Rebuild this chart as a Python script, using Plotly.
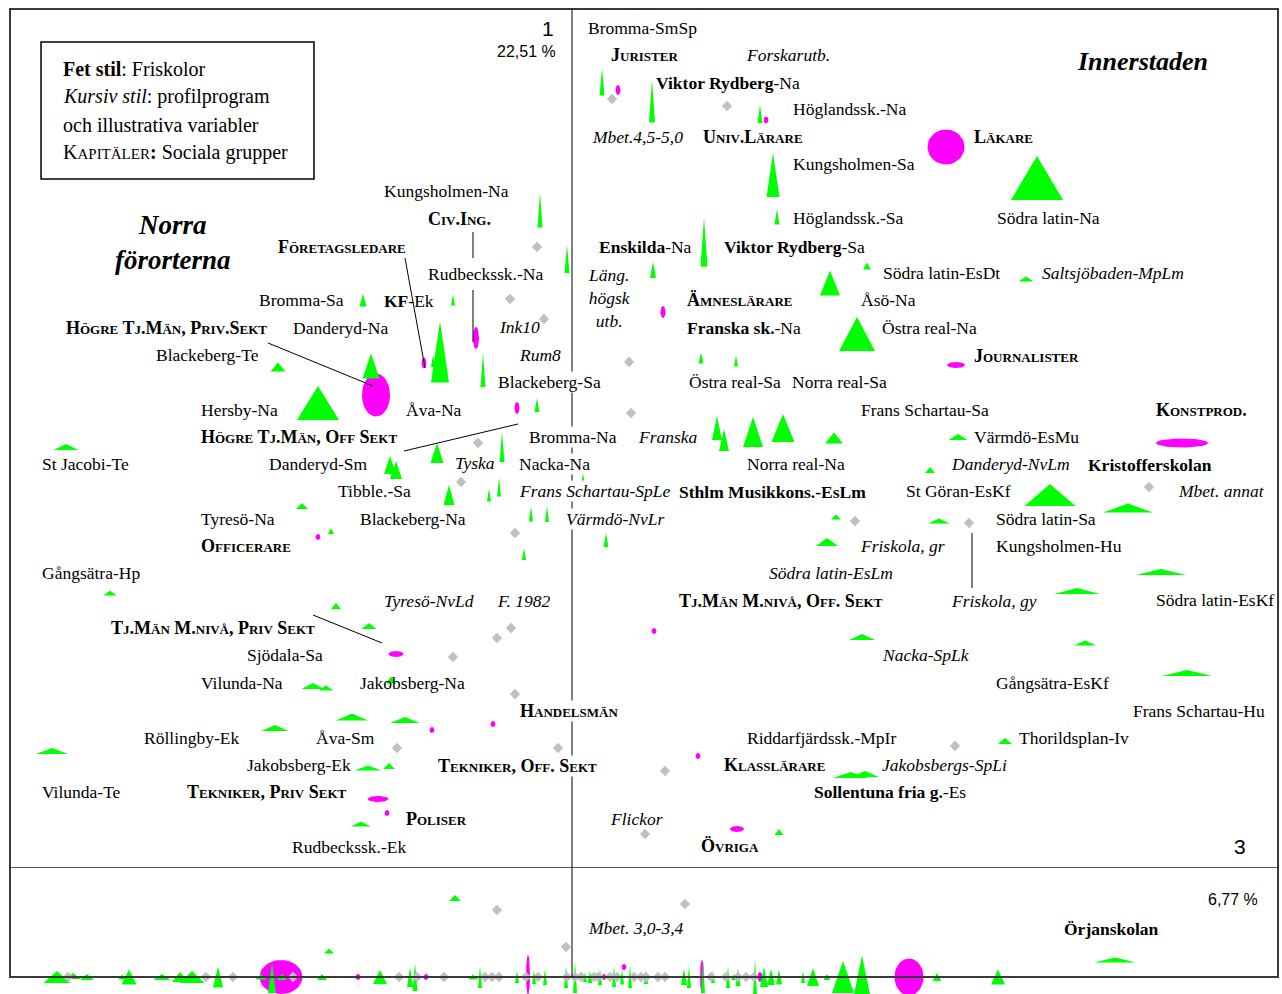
import numpy as np
import plotly.graph_objects as go

SERIF = "Liberation Serif, Times New Roman, serif"
SANS = "Liberation Sans, Arial, sans-serif"
GREEN = "#00ff00"
MAGENTA = "#ff00ff"
GREY = "#c0c0c0"

# ---------------- main plane (axis 3 horizontal, axis 1 vertical) ----------------
# schools (green triangles): centre x, centre y, width (axis 3 contrib.), height (axis 1 contrib.)
tri_x = [0.30, 0.80, 1.88, 2.01, 2.05, 4.65, -0.32, -0.05, 1.32, 0.81,
         2.95, 4.54, 2.58, 2.85, -2.09, -1.19, -1.32, -1.39, -0.89, -2.94,
         -2.01, -2.54, -0.35, 1.29, 1.64, 1.45, 1.52, 1.81, 2.11, 2.62,
         3.86, -5.06, -1.82, -1.76, -1.35, -0.70, -1.23, -0.83, -0.73, 0.11,
         3.58, 4.78, 5.56, -0.41, -0.25, 0.34, -0.48, -2.70, -2.41, 2.64,
         3.67, 2.55, 5.89, 5.05, -4.62, -2.36, -2.03, 2.90, 5.13, -2.59,
         -2.46, -1.81, 6.15, -2.20, -1.67, -2.97, -5.20, 4.33, -2.04, -1.83,
         2.79, 2.93, -2.11, 2.07]
tri_y = [7.86, 7.67, 7.54, 6.93, 6.51, 6.90, 6.58, 6.09, 6.26, 5.98,
         6.02, 5.89, 5.85, 5.34, 5.68, 5.68, 5.16, 5.07, 4.98, 5.01,
         5.02, 4.65, 4.63, 5.10, 5.07, 4.40, 4.28, 4.36, 4.40, 4.30,
         4.31, 4.21, 4.03, 3.98, 4.15, 4.21, 3.73, 3.73, 3.81, 3.89,
         3.98, 3.73, 3.60, 3.54, 3.54, 3.28, 3.14, 3.62, 3.37, 3.51,
         3.47, 3.26, 2.96, 2.77, 2.75, 2.62, 2.42, 2.31, 2.25, 1.82,
         1.80, 1.88, 1.95, 1.51, 1.48, 1.40, 1.17, 1.27, 1.00, 1.02,
         0.93, 0.94, 0.44, 0.36]
tri_w = [0.05, 0.06, 0.05, 0.13, 0.05, 0.52, 0.05, 0.05, 0.07, 0.06,
         0.08, 0.15, 0.20, 0.36, 0.07, 0.04, 0.18, 0.04, 0.05, 0.15,
         0.17, 0.42, 0.05, 0.05, 0.04, 0.10, 0.10, 0.20, 0.23, 0.18,
         0.19, 0.25, 0.12, 0.12, 0.13, 0.05, 0.11, 0.04, 0.04, 0.04,
         0.10, 0.51, 0.50, 0.04, 0.04, 0.05, 0.04, 0.12, 0.06, 0.10,
         0.22, 0.22, 0.50, 0.46, 0.13, 0.10, 0.15, 0.26, 0.22, 0.23,
         0.15, 0.10, 0.50, 0.32, 0.30, 0.27, 0.32, 0.14, 0.27, 0.12,
         0.36, 0.28, 0.20, 0.09]
tri_h = [0.27, 0.43, 0.18, 0.44, 0.15, 0.44, 0.35, 0.28, 0.49, 0.16,
         0.07, 0.05, 0.25, 0.34, 0.13, 0.11, 0.61, 0.12, 0.34, 0.09,
         0.25, 0.34, 0.14, 0.11, 0.11, 0.24, 0.22, 0.30, 0.28, 0.11,
         0.06, 0.06, 0.18, 0.18, 0.20, 0.30, 0.20, 0.13, 0.19, 0.11,
         0.06, 0.22, 0.09, 0.15, 0.16, 0.14, 0.12, 0.06, 0.06, 0.05,
         0.05, 0.08, 0.06, 0.06, 0.05, 0.06, 0.06, 0.06, 0.05, 0.06,
         0.05, 0.07, 0.06, 0.07, 0.06, 0.06, 0.06, 0.06, 0.05, 0.06,
         0.06, 0.06, 0.05, 0.06]

# social groups (magenta ellipses)
ell_x = [0.46, 1.94, 3.74, -0.96, -1.48, -1.96, 0.91, -0.55, 3.84, 6.10,
         -2.54, 0.82, -1.76, -1.40, -0.79, 1.26, -1.94, -1.85, 1.65]
ell_y = [7.78, 7.48, 7.21, 5.30, 5.05, 4.73, 5.56, 4.60, 5.03, 4.25,
         3.31, 2.37, 2.14, 1.38, 1.44, 1.12, 0.69, 0.55, 0.39]
ell_w = [0.05, 0.05, 0.37, 0.06, 0.05, 0.28, 0.05, 0.05, 0.18, 0.52,
         0.05, 0.05, 0.15, 0.05, 0.05, 0.05, 0.21, 0.05, 0.14]
ell_h = [0.10, 0.07, 0.35, 0.22, 0.11, 0.43, 0.12, 0.12, 0.06, 0.09,
         0.06, 0.06, 0.06, 0.06, 0.06, 0.06, 0.06, 0.06, 0.06]

# illustrative variables (grey diamonds)
dia_x = [0.40, 1.55, -0.35, -0.62, -0.28, 0.57, 0.59, -0.94, -1.11, -0.57,
         2.83, 3.97, 5.77, -0.61, -0.75, -1.19, -0.57, -1.75, -0.14, 0.93,
         3.83, 0.73]
dia_y = [7.69, 7.62, 6.21, 5.69, 5.49, 5.06, 4.55, 4.25, 3.86, 3.35,
         3.47, 3.45, 3.81, 2.40, 2.30, 2.11, 1.74, 1.20, 1.20, 0.97,
         1.22, 0.34]

# ---------------- lower strip ----------------
s_tri_x = [-5.15, -4.99, -4.85, -4.50, -4.43, -4.10, -3.92, -3.80, -3.54, -3.11,
           -3.00, -2.90, -2.50, -2.43, -1.92, -1.62, -1.57, -1.17, -0.99, -0.92,
           -0.55, -0.38, -0.27, -0.06, 0.03, 0.13, 0.18, 0.28, 0.42, 0.50,
           0.58, 0.74, 1.12, 1.17, 1.31, 1.41, 1.56, 1.62, 1.66, 1.83,
           1.92, 1.99, 2.07, 2.31, 2.41, 2.55, 2.71, 2.90, 3.65, 4.26, 5.43]
s_tri_y = [0.00, 0.01, 0.00, 0.00, 0.00, 0.00, 0.00, 0.00, 0.00, 0.00,
           -0.01, 0.00, 0.00, 0.26, 0.00, 0.00, 0.00, 0.79, 0.00, 0.00,
           0.00, 0.00, 0.00, 0.00, 0.00, 0.00, 0.00, 0.00, 0.00, 0.00,
           0.00, 0.00, 0.00, 0.00, 0.00, 0.00, 0.00, 0.00, 0.00, 0.00,
           0.00, 0.00, 0.00, 0.00, 0.00, 0.00, 0.00, 0.02, 0.00, 0.00, 0.17]
s_tri_w = [0.27, 0.15, 0.14, 0.07, 0.15, 0.17, 0.16, 0.25, 0.10, 0.12,
           0.08, 0.10, 0.10, 0.10, 0.14, 0.06, 0.05, 0.12, 0.10, 0.04,
           0.04, 0.04, 0.04, 0.04, 0.04, 0.04, 0.05, 0.04, 0.04, 0.04,
           0.04, 0.04, 0.06, 0.04, 0.04, 0.04, 0.04, 0.06, 0.05, 0.04,
           0.08, 0.08, 0.06, 0.04, 0.12, 0.07, 0.22, 0.16, 0.09, 0.14, 0.42]
s_tri_h = [0.12, 0.06, 0.06, 0.05, 0.15, 0.06, 0.10, 0.12, 0.21, 0.05,
           0.30, 0.06, 0.06, 0.05, 0.14, 0.20, 0.28, 0.06, 0.05, 0.22,
           0.12, 0.14, 0.16, 0.22, 0.32, 0.10, 0.12, 0.16, 0.20, 0.15,
           0.22, 0.14, 0.16, 0.22, 0.32, 0.12, 0.22, 0.06, 0.18, 0.36,
           0.20, 0.16, 0.15, 0.12, 0.18, 0.06, 0.32, 0.39, 0.08, 0.15, 0.05]

s_ell_x = [-2.91, -2.14, -1.46, -0.44, 0.32, 0.52, 1.30, 1.88, 3.37]
s_ell_y = [0.00, 0.00, 0.00, 0.02, 0.00, 0.10, 0.00, 0.00, 0.00]
s_ell_w = [0.43, 0.05, 0.05, 0.04, 0.04, 0.05, 0.04, 0.05, 0.29]
s_ell_h = [0.34, 0.06, 0.06, 0.40, 0.06, 0.06, 0.34, 0.10, 0.37]

s_dia_x = [-5.04, -3.66, -3.39, -2.79, -1.73, -1.55, -1.28, -0.87, -0.80, -0.73,
           -0.46, -0.34, -0.05, 0.03, 0.09, 0.22, 0.26, 0.38, 0.45, 0.62,
           0.69, 0.74, 0.86, 0.93, 1.39, 1.54, 1.66, 1.74, 1.82,
           -0.75, 1.13, -0.06]
s_dia_y = [0.00, 0.00, 0.00, 0.00, 0.00, 0.00, 0.00, 0.00, 0.00, 0.00,
           0.00, 0.00, 0.00, 0.00, 0.00, 0.00, 0.00, 0.00, 0.00, 0.00,
           0.00, 0.00, 0.00, 0.00, 0.00, 0.00, 0.00, 0.00, 0.00,
           0.67, 0.73, 0.30]

# ---------------- labels ----------------
school_labels = [
    ("Bromma-SmSp", 0.15, 8.40), ("Höglandssk.-Na", 2.20, 7.59),
    ("Kungsholmen-Sa", 2.20, 7.04), ("Höglandssk.-Sa", 2.20, 6.50),
    ("Södra latin-Na", 4.24, 6.50), ("Kungsholmen-Na", -1.89, 6.77),
    ("Rudbeckssk.-Na", -1.45, 5.94), ("Södra latin-EsDt", 3.10, 5.95),
    ("Bromma-Sa", -3.14, 5.68), ("Åsö-Na", 2.88, 5.68),
    ("Danderyd-Na", -2.80, 5.40), ("Östra real-Na", 3.09, 5.40),
    ("Blackeberg-Te", -4.17, 5.13), ("Blackeberg-Sa", -0.75, 4.86),
    ("Östra real-Sa", 1.16, 4.86), ("Norra real-Sa", 2.19, 4.86),
    ("Hersby-Na", -3.72, 4.58), ("Åva-Na", -1.67, 4.58),
    ("Frans Schartau-Sa", 2.88, 4.58), ("Bromma-Na", -0.44, 4.31),
    ("Värmdö-EsMu", 4.01, 4.31), ("St Jacobi-Te", -5.31, 4.04),
    ("Danderyd-Sm", -3.04, 4.04), ("Nacka-Na", -0.54, 4.04),
    ("Norra real-Na", 1.74, 4.04), ("Tibble.-Sa", -2.35, 3.77),
    ("St Göran-EsKf", 3.33, 3.77), ("Tyresö-Na", -3.72, 3.49),
    ("Blackeberg-Na", -2.13, 3.49), ("Södra latin-Sa", 4.23, 3.49),
    ("Kungsholmen-Hu", 4.23, 3.22), ("Gångsätra-Hp", -5.31, 2.95),
    ("Södra latin-EsKf", 5.83, 2.68), ("Sjödala-Sa", -3.26, 2.13),
    ("Vilunda-Na", -3.72, 1.85), ("Jakobsberg-Na", -2.13, 1.85),
    ("Gångsätra-EsKf", 4.23, 1.85), ("Frans Schartau-Hu", 5.60, 1.57),
    ("Röllingby-Ek", -4.29, 1.30), ("Åva-Sm", -2.57, 1.30),
    ("Riddarfjärdssk.-MpIr", 1.74, 1.30), ("Thorildsplan-Iv", 4.46, 1.30),
    ("Jakobsberg-Ek", -3.26, 1.03), ("Vilunda-Te", -5.31, 0.76),
    ("Rudbeckssk.-Ek", -2.81, 0.21),
]
free_school_labels = [
    ("<b>Viktor Rydberg</b>-Na", 0.83, 7.85), ("<b>Enskilda</b>-Na", 0.26, 6.21),
    ("<b>Viktor Rydberg</b>-Sa", 1.51, 6.21), ("<b>KF</b>-Ek", -1.89, 5.67),
    ("<b>Franska sk.</b>-Na", 1.14, 5.40), ("<b>Kristofferskolan</b>", 5.15, 4.03),
    ("<b>Sthlm Musikkons.-EsLm</b>", 1.06, 3.76),
    ("<b>Sollentuna fria g.</b>-Es", 2.41, 0.76),
]
profile_labels = [
    ("Forskarutb.", 1.73, 8.13), ("Mbet.4,5-5,0", 0.19, 7.31),
    ("Saltsjöbaden-MpLm", 4.69, 5.95), ("Ink10", -0.74, 5.41),
    ("Rum8", -0.54, 5.13), ("Franska", 0.65, 4.31), ("Tyska", -1.18, 4.05),
    ("Danderyd-NvLm", 3.78, 4.04), ("Frans Schartau-SpLe", -0.54, 3.77),
    ("Mbet. annat", 6.05, 3.77), ("Värmdö-NvLr", -0.07, 3.49),
    ("Friskola, gr", 2.87, 3.22), ("Södra latin-EsLm", 1.96, 2.95),
    ("Tyresö-NvLd", -1.89, 2.67), ("F. 1982", -0.76, 2.67),
    ("Friskola, gy", 3.78, 2.67), ("Nacka-SpLk", 3.09, 2.13),
    ("Jakobsbergs-SpLi", 3.09, 1.03), ("Flickor", 0.37, 0.49),
]
profile_block = ("Läng.<br>högsk<br>utb.", 0.37, 5.70)
social_labels = [
    ("Jurister", 0.38, 8.13), ("Univ.Lärare", 1.30, 7.31), ("Läkare", 4.01, 7.31),
    ("Civ.Ing.", -1.45, 6.49), ("Företagsledare", -2.95, 6.21),
    ("Ämneslärare", 1.14, 5.68), ("Högre Tj.Män, Priv.Sekt", -5.07, 5.40),
    ("Journalister", 4.01, 5.12), ("Konstprod.", 5.83, 4.58),
    ("Högre Tj.Män, Off Sekt", -3.72, 4.31), ("Officerare", -3.72, 3.22),
    ("Tj.Män M.nivå, Off. Sekt", 1.06, 2.67), ("Tj.Män M.nivå, Priv Sekt", -4.62, 2.40),
    ("Handelsmän", -0.53, 1.57), ("Tekniker, Off. Sekt", -1.35, 1.02),
    ("Klasslärare", 1.51, 1.03), ("Tekniker, Priv Sekt", -3.86, 0.76),
    ("Poliser", -1.67, 0.49), ("Övriga", 1.28, 0.22),
]
strip_profile_labels = [("Mbet. 3,0-3,4", 0.15, 0.49)]
strip_free_labels = [("<b>Örjanskolan</b>", 4.91, 0.48)]

# leader lines (from label to point)
leaders = [((-1.67, 6.10), (-1.47, 5.00)),
           ((-0.99, 6.36), (-0.99, 6.10)),
           ((-0.99, 5.78), (-0.99, 5.26)),
           ((-3.04, 5.25), (-1.99, 4.82)),
           ((-1.68, 4.17), (-0.54, 4.44)),
           ((-2.59, 2.53), (-1.90, 2.25)),
           ((4.00, 3.35), (4.00, 2.80))]

on_axis = {"Blackeberg-Sa", "Bromma-Na", "Nacka-Na", "Frans Schartau-SpLe",
           "Värmdö-NvLr", "Handelsmän", "Tekniker, Off. Sekt"}

# ---------------- build ----------------
def tri_path(xs, ys, ws, hs):
    px, py = [], []
    for x, y, w, h in zip(xs, ys, ws, hs):
        px += [x - w / 2, x + w / 2, x, x - w / 2, None]
        py += [y - h / 2, y - h / 2, y + h / 2, y - h / 2, None]
    return px, py


def ell_path(xs, ys, ws, hs):
    t = np.linspace(0, 2 * np.pi, 41)
    px, py = [], []
    for x, y, w, h in zip(xs, ys, ws, hs):
        px += list(x + w / 2 * np.cos(t)) + [None]
        py += list(y + h / 2 * np.sin(t)) + [None]
    return px, py


fig = go.Figure()


def add_set(ex, ey, ew, eh, tx, ty, tw, th, dx, dy, yaxis):
    ax, ay = ell_path(ex, ey, ew, eh)
    fig.add_trace(go.Scatter(x=ax, y=ay, mode="lines", fill="toself", fillcolor=MAGENTA,
                             line=dict(width=0, color=MAGENTA), hoverinfo="skip", yaxis=yaxis))
    bx, by = tri_path(tx, ty, tw, th)
    fig.add_trace(go.Scatter(x=bx, y=by, mode="lines", fill="toself", fillcolor=GREEN,
                             line=dict(width=0, color=GREEN), hoverinfo="skip", yaxis=yaxis))
    fig.add_trace(go.Scatter(x=dx, y=dy, mode="markers", hoverinfo="skip", yaxis=yaxis,
                             marker=dict(symbol="diamond", size=8, color=GREY, line=dict(width=0))))


add_set(ell_x, ell_y, ell_w, ell_h, tri_x, tri_y, tri_w, tri_h, dia_x, dia_y, "y")
add_set(s_ell_x, s_ell_y, s_ell_w, s_ell_h, s_tri_x, s_tri_y, s_tri_w, s_tri_h,
        s_dia_x, s_dia_y, "y2")

LBL = 17.5


def label(text, x, y, yref="y", variant="normal", xanchor="left", align="left"):
    plain = text.replace("<b>", "").replace("</b>", "")
    fig.add_annotation(x=x, y=y, xref="x", yref=yref, text=text, showarrow=False,
                       xanchor=xanchor, yanchor="middle", align=align, borderpad=0,
                       bgcolor="white" if plain in on_axis else "rgba(0,0,0,0)",
                       font=dict(family=SERIF, size=LBL, color="black", variant=variant))


for t, x, y in school_labels:
    label(t, x, y)
for t, x, y in free_school_labels:
    label(t, x, y)
for t, x, y in profile_labels:
    fig.add_annotation(x=x, y=y, xref="x", yref="y", text="<i>" + t + "</i>", showarrow=False,
                       xanchor="left", yanchor="middle", borderpad=0,
                       bgcolor="white" if t in on_axis else "rgba(0,0,0,0)",
                       font=dict(family=SERIF, size=LBL, color="black"))
label("<i>" + profile_block[0] + "</i>", profile_block[1], profile_block[2],
      xanchor="center", align="center")
for t, x, y in social_labels:
    fig.add_annotation(x=x, y=y, xref="x", yref="y", text="<b>" + t + "</b>", showarrow=False,
                       xanchor="left", yanchor="middle", borderpad=0,
                       bgcolor="white" if t in on_axis else "rgba(0,0,0,0)",
                       font=dict(family=SERIF, size=18, color="black", variant="small-caps"))
for t, x, y in strip_profile_labels:
    label("<i>" + t + "</i>", x, y, yref="y2")
for t, x, y in strip_free_labels:
    label(t, x, y, yref="y2")

# region titles
fig.add_annotation(x=0.8385, y=0.9386, xref="paper", yref="paper", text="<b><i>Innerstaden</i></b>",
                   showarrow=False, xanchor="left", yanchor="middle",
                   font=dict(family=SERIF, size=26, color="black"))
fig.add_annotation(x=0.1350, y=0.7565, xref="paper", yref="paper",
                   text="<b><i>Norra<br>förorterna</i></b>", showarrow=False,
                   xanchor="center", yanchor="middle", align="center",
                   font=dict(family=SERIF, size=27, color="black"))

# axis labels
fig.add_annotation(x=0.4275, y=0.9718, xref="paper", yref="paper", text="1", showarrow=False,
                   xanchor="center", yanchor="middle", font=dict(family=SANS, size=21, color="black"))
fig.add_annotation(x=0.4353, y=0.9477, xref="paper", yref="paper", text="22,51 %", showarrow=False,
                   xanchor="right", yanchor="middle", font=dict(family=SANS, size=16, color="black"))
fig.add_annotation(x=0.9672, y=0.1479, xref="paper", yref="paper", text="3", showarrow=False,
                   xanchor="center", yanchor="middle", font=dict(family=SANS, size=21, color="black"))
fig.add_annotation(x=0.9828, y=0.0946, xref="paper", yref="paper", text="6,77 %", showarrow=False,
                   xanchor="right", yanchor="middle", font=dict(family=SANS, size=16, color="black"))

# key box
key_lines = ["<b>Fet stil</b>: Friskolor",
             "<i>Kursiv stil</i>: profilprogram",
             "och illustrativa variabler",
             "K<span style='font-size:15px'>APITÄLER</span><b>:</b> Sociala grupper"]
for i, t in enumerate(key_lines):
    fig.add_annotation(x=0.0476, y=0.9306 - i * 0.02817, xref="paper", yref="paper", text=t,
                       showarrow=False, xanchor="left", yanchor="middle",
                       font=dict(family=SERIF, size=20, color="black"))
fig.add_shape(type="rect", xref="paper", yref="paper", x0=0.0320, x1=0.2449, y0=0.8199, y1=0.9577,
              line=dict(color="black", width=1.5), fillcolor="rgba(0,0,0,0)", layer="above")

# frame, panel separator, axis 1 line
X0, X1 = -5.62, 7.06
fig.add_shape(type="rect", xref="x", yref="paper", x0=X0, x1=X1, y0=0.0171, y1=0.99095,
              line=dict(color="#3a3a3a", width=2), layer="above")
fig.add_shape(type="line", xref="x", yref="y", x0=X0, x1=X1, y0=0, y1=0,
              line=dict(color="#222222", width=1.5), layer="above")
fig.add_shape(type="line", xref="x", yref="y2", x0=X0, x1=X1, y0=0, y1=0,
              line=dict(color="#3a3a3a", width=2), layer="above")
fig.add_shape(type="line", xref="x", yref="paper", x0=0, x1=0, y0=0.0171, y1=0.99095,
              line=dict(color="black", width=1), layer="above")
for (a, b) in leaders:
    fig.add_shape(type="line", xref="x", yref="y", x0=a[0], y0=a[1], x1=b[0], y1=b[1],
                  line=dict(color="black", width=1), layer="above")

fig.update_layout(
    width=1282, height=994, margin=dict(l=0, r=0, t=0, b=0),
    paper_bgcolor="white", plot_bgcolor="white", showlegend=False,
    xaxis=dict(range=[-5.72, 7.10], visible=False, fixedrange=True),
    yaxis=dict(range=[0, 8.68], domain=[0.126761, 1.0], visible=False, fixedrange=True),
    yaxis2=dict(range=[-0.17, 1.09], domain=[0.0, 0.126761], visible=False, fixedrange=True,
                anchor="x"),
)

fig.write_html("out.html", config={"displayModeBar": False},
               post_script="document.body.style.margin='0';document.body.style.overflow='hidden';")
